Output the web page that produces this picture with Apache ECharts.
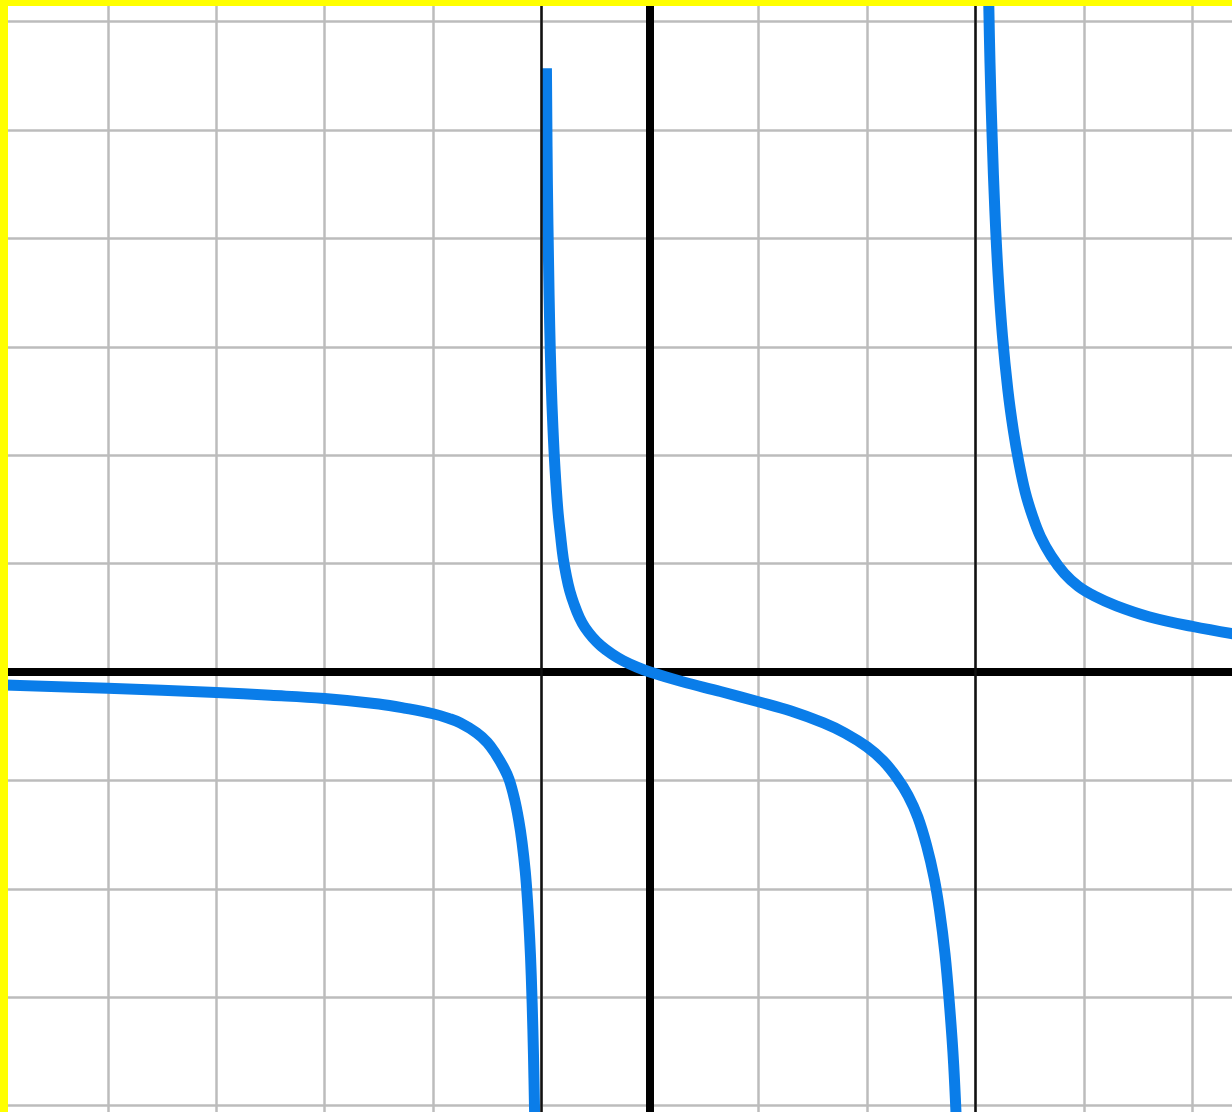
<!DOCTYPE html>
<html lang="en">
<head>
    <meta charset="utf-8">
    <title>y = x / ((x+1)(x-3))</title>
    <script src="https://cdn.jsdelivr.net/npm/echarts@6.0.0/dist/echarts.min.js"></script>
    <style>
        html, body { margin: 0; padding: 0; background: #fff; }
    </style>
</head>
<body>
<div id="main" style="width:1232px;height:1112px"></div>
<script type="text/javascript">
    // points, one pair of arrays per branch
    var leftX = [-5.95, -5.0, -4.0, -3.5, -3.0, -2.5, -2.25, -2.0, -1.85, -1.75, -1.6, -1.5, -1.42, -1.35, -1.3, -1.25, -1.21, -1.18, -1.15, -1.13, -1.11, -1.095, -1.08, -1.07, -1.06, -1.05];
    var leftY = [-0.12, -0.15, -0.19, -0.215, -0.245, -0.295, -0.335, -0.385, -0.43, -0.47, -0.56, -0.65, -0.76, -0.88, -0.99, -1.17, -1.37, -1.57, -1.84, -2.1, -2.45, -2.8, -3.3, -3.75, -4.3, -4.9];

    var midX = [-0.955, -0.946, -0.935, -0.925, -0.912, -0.895, -0.875, -0.85, -0.825, -0.8, -0.77, -0.74, -0.7, -0.65, -0.6, -0.53, -0.45, -0.35, -0.25, -0.12, 0,
                0.3, 0.65, 1.0, 1.3, 1.6, 1.8, 2.0, 2.15, 2.28, 2.38, 2.47, 2.55, 2.62, 2.67, 2.72, 2.76, 2.8, 2.835];
    var midY = [5.57, 4.5, 3.75, 3.2, 2.7, 2.25, 1.86, 1.5, 1.26, 1.05, 0.88, 0.75, 0.625, 0.5, 0.41, 0.32, 0.24, 0.165, 0.105, 0.045, 0,
                -0.09, -0.18, -0.275, -0.36, -0.47, -0.565, -0.69, -0.82, -0.98, -1.14, -1.34, -1.6, -1.9, -2.2, -2.6, -3.05, -3.62, -4.4];

    var rightX = [3.12, 3.135, 3.155, 3.18, 3.21, 3.25, 3.3, 3.35, 3.4, 3.46, 3.53, 3.6, 3.7, 3.82, 3.95, 4.1, 4.3, 4.6, 5.0, 5.45];
    var rightY = [6.35, 5.62, 4.93, 4.25, 3.66, 3.1, 2.6, 2.23, 1.94, 1.66, 1.43, 1.25, 1.07, 0.91, 0.79, 0.7, 0.61, 0.51, 0.42, 0.34];

    // vertical asymptotes
    var asymptotes = [-1, 3];

    function pairs(xs, ys) {
        var out = [];
        for (var i = 0; i < xs.length; i++) {
            out.push([xs[i], ys[i]]);
        }
        return out;
    }

    var curveColor = '#0a7de9';

    function branch(xs, ys) {
        return {
            type: 'line',
            data: pairs(xs, ys),
            showSymbol: false,
            smooth: 0.4,
            silent: true,
            lineStyle: { color: curveColor, width: 11, cap: 'butt' }
        };
    }

    var myChart = echarts.init(document.getElementById('main'));

    var series = [branch(leftX, leftY), branch(midX, midY), branch(rightX, rightY)];
    // thin black asymptote lines
    series[0].markLine = {
        silent: true,
        symbol: 'none',
        label: { show: false },
        lineStyle: { color: '#111', width: 2.5, type: 'solid' },
        data: asymptotes.map(function (a) { return { xAxis: a }; })
    };

    var option = {
        animation: false,
        backgroundColor: '#fff',
        // grid runs past the canvas so that the integer grid lines land where the picture has them
        grid: { left: -0.7, top: -86.8, width: 1301.4, height: 1300.8, outerBoundsMode: 'none', containLabel: false },
        xAxis: {
            type: 'value',
            min: -6, max: 6, interval: 1,
            axisLine: { onZero: true, lineStyle: { color: '#000', width: 8 } },
            axisTick: { show: false },
            axisLabel: { show: false },
            splitLine: { show: true, lineStyle: { color: '#bcbcbc', width: 2.5 } }
        },
        yAxis: {
            type: 'value',
            min: -5, max: 7, interval: 1,
            axisLine: { onZero: true, lineStyle: { color: '#000', width: 8 } },
            axisTick: { show: false },
            axisLabel: { show: false },
            splitLine: { show: true, lineStyle: { color: '#bcbcbc', width: 2.5 } }
        },
        // yellow frame on the top and left edge
        graphic: [
            { type: 'rect', z: 100, shape: { x: 0, y: 0, width: 1232, height: 6 }, style: { fill: '#ffff00' } },
            { type: 'rect', z: 100, shape: { x: 0, y: 0, width: 8, height: 1112 }, style: { fill: '#ffff00' } }
        ],
        series: series
    };
    myChart.setOption(option);
</script>
</body>
</html>
